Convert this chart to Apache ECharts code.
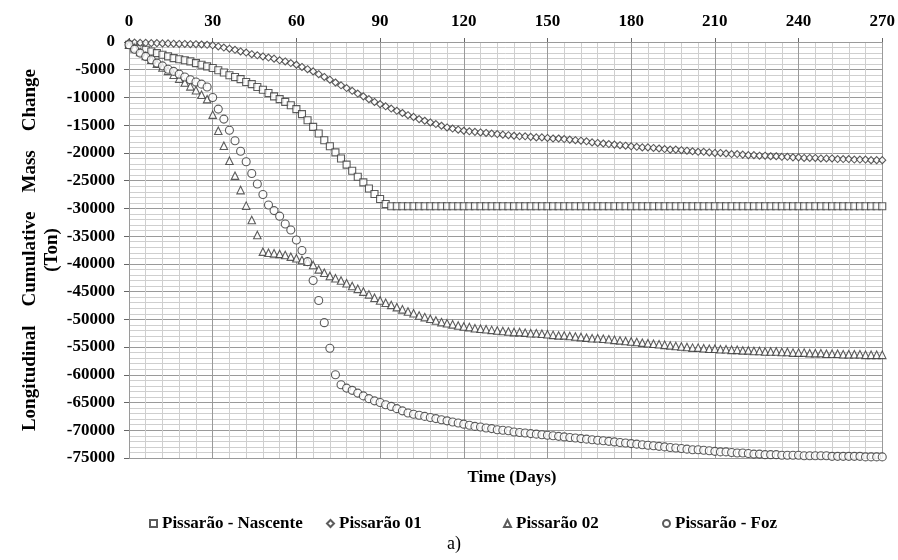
<!DOCTYPE html>
<html>
<head>
<meta charset="utf-8">
<script src="https://cdn.jsdelivr.net/npm/echarts@6/dist/echarts.min.js"></script>
<style>
  html, body { margin: 0; padding: 0; background: #fff; }
  #main { width: 898px; height: 560px; }
</style>
</head>
<body>
<div id="main"></div>
<script>
// time axis: one sample every 2 days, 0..270
var days = [];
for (var d = 0; d <= 270; d += 2) days.push(d);

var xTicks = [0, 30, 60, 90, 120, 150, 180, 210, 240, 270];
var yTicks = [0, -5000, -10000, -15000, -20000, -25000, -30000, -35000, -40000,
    -45000, -50000, -55000, -60000, -65000, -70000, -75000];

var seriesNames = ["Pissarão - Nascente", "Pissarão 01", "Pissarão 02", "Pissarão - Foz"];

// Pissarão - Nascente (squares)
var nascente = [
    -500, -900, -1200, -1400, -1700, -2000, -2300, -2600, -2900, -3100,
    -3300, -3500, -3800, -4100, -4400,
    -4700, -5100, -5500, -6000, -6300, -6700, -7200, -7600, -8100, -8600,
    -9200, -9800, -10300, -10800, -11400,
    -12100, -13000, -14100, -15300, -16500, -17700, -18800, -19900, -21000, -22100,
    -23200, -24300, -25300, -26400, -27400, -28300, -29200,
    -29600, -29600, -29600, -29600, -29600, -29600, -29600, -29600, -29600, -29600,
    -29600, -29600, -29600, -29600, -29600, -29600, -29600, -29600, -29600, -29600,
    -29600, -29600, -29600, -29600, -29600, -29600, -29600, -29600, -29600, -29600,
    -29600, -29600, -29600, -29600, -29600, -29600, -29600, -29600, -29600, -29600,
    -29600, -29600, -29600, -29600, -29600, -29600, -29600, -29600, -29600, -29600,
    -29600, -29600, -29600, -29600, -29600, -29600, -29600, -29600, -29600, -29600,
    -29600, -29600, -29600, -29600, -29600, -29600, -29600, -29600, -29600, -29600,
    -29600, -29600, -29600, -29600, -29600, -29600, -29600, -29600, -29600, -29600,
    -29600, -29600, -29600, -29600, -29600, -29600, -29600, -29600, -29600
];

// Pissarão 01 (diamonds)
var p01 = [
    -100, -100, -150, -150, -200, -200, -250, -250, -300, -350,
    -350, -400, -400, -450, -500, -600, -800, -1000, -1200, -1400,
    -1700, -1900, -2200, -2400, -2600, -2800, -3000, -3300, -3500, -3800,
    -4100, -4500, -4900, -5300, -5800, -6300, -6800, -7300, -7800, -8300,
    -8800, -9300, -9800, -10300, -10800, -11200, -11600, -12000, -12400, -12800,
    -13200, -13500, -13900, -14200, -14500, -14800, -15100, -15400, -15600, -15800,
    -16000, -16100, -16200, -16300, -16400, -16500, -16600, -16700, -16800, -16900,
    -17000, -17000, -17100, -17200, -17200, -17300, -17400, -17400, -17500, -17600,
    -17700, -17800, -17900, -18100, -18200, -18300, -18400, -18500, -18600, -18700,
    -18800, -18900, -19000, -19000, -19100, -19200, -19300, -19400, -19400, -19500,
    -19600, -19700, -19800, -19800, -19900, -20000, -20000, -20100, -20200, -20200,
    -20300, -20400, -20400, -20500, -20500, -20600, -20600, -20700, -20700, -20800,
    -20800, -20900, -20900, -20900, -21000, -21000, -21000, -21100, -21100, -21100,
    -21200, -21200, -21200, -21300, -21300, -21300
];

// Pissarão 02 (triangles)
var p02 = [
    -500, -1100, -1800, -2500, -3200, -3900, -4600, -5200, -5900, -6600,
    -7300, -8000, -8700, -9500, -10300, -13100, -16000, -18700, -21400, -24100,
    -26700, -29500, -32100, -34800, -37800, -38000, -38100, -38200, -38400, -38700,
    -39000, -39300, -39600, -40200, -41000, -41600, -42200, -42600, -43000, -43500,
    -44000, -44500, -45000, -45500, -46100, -46600, -47000, -47400, -47800, -48200,
    -48600, -48900, -49300, -49600, -49900, -50200, -50500, -50700, -50900, -51100,
    -51300, -51400, -51600, -51700, -51800, -51900, -52000, -52100, -52200, -52300,
    -52300, -52400, -52500, -52500, -52600, -52700, -52800, -52900, -52900, -53000,
    -53100, -53200, -53300, -53400, -53400, -53500, -53600, -53700, -53800, -53900,
    -54000, -54100, -54200, -54300, -54400, -54500, -54600, -54700, -54800, -54900,
    -55000, -55100, -55100, -55200, -55300, -55300, -55400, -55400, -55500, -55500,
    -55600, -55600, -55700, -55700, -55800, -55800, -55800, -55900, -55900, -56000,
    -56000, -56000, -56100, -56100, -56100, -56200, -56200, -56200, -56300, -56300,
    -56300, -56300, -56400, -56400, -56400, -56400
];

// Pissarão - Foz (circles)
var foz = [
    -500, -1300, -2000, -2600, -3200, -3800, -4300, -4900, -5300, -5800,
    -6300, -6800, -7200, -7600, -8100, -10000, -12100, -13900, -15900, -17800,
    -19700, -21600, -23700, -25600, -27500, -29400, -30400, -31400, -32800, -33900,
    -35700, -37600, -39600, -43000, -46600, -50600, -55200, -60000, -61800, -62400,
    -62800, -63300, -63800, -64300, -64700, -65000, -65400, -65700, -66100, -66500,
    -66900, -67100, -67300, -67500, -67700, -67900, -68100, -68300, -68500, -68700,
    -68900, -69100, -69300, -69400, -69600, -69700, -69900, -70000, -70100, -70300,
    -70400, -70500, -70600, -70700, -70800, -70900, -71000, -71100, -71200, -71300,
    -71400, -71500, -71600, -71700, -71800, -71900, -72000, -72100, -72200, -72300,
    -72400, -72500, -72600, -72700, -72800, -72900, -73000, -73100, -73200, -73300,
    -73400, -73500, -73500, -73600, -73700, -73800, -73900, -73900, -74000, -74100,
    -74100, -74200, -74300, -74300, -74400, -74400, -74400, -74500, -74500, -74500,
    -74500, -74600, -74600, -74600, -74600, -74600, -74700, -74700, -74700, -74700,
    -74700, -74700, -74800, -74800, -74800, -74800
];

var symbols = ['rect', 'diamond', 'triangle', 'circle'];
var legendLeft = [144, 321, 498, 657];

function pairs(vals) {
    return days.map(function (d, i) { return [d, vals[i]]; });
}

var serif = "'Liberation Serif', 'DejaVu Serif', serif";
var majorColor = '#9a9a9a';
var minorColor = '#cfcfcf';

var chart = echarts.init(document.getElementById('main'));

function markerSeries(idx, size, vals) {
    return {
        name: seriesNames[idx],
        type: 'scatter',
        symbol: symbols[idx],
        symbolSize: size,
        data: pairs(vals),
        itemStyle: { color: '#fff', borderColor: '#333', borderWidth: 1.1 },
        animation: false
    };
}

// one legend box per entry so each can sit where the original has it
var legends = seriesNames.map(function (n, i) {
    return {
        data: [{ name: n, icon: symbols[i] }],
        left: legendLeft[i], top: 510,
        itemWidth: 7, itemHeight: 7,
        textStyle: { fontFamily: serif, fontWeight: 'bold', fontSize: 17, color: '#000' }
    };
});

var option = {
    backgroundColor: '#fff',
    animation: false,
    title: [
        {
            text: 'Time (Days)', left: 507, top: 464, textAlign: 'center',
            textStyle: { fontFamily: serif, fontWeight: 'bold', fontSize: 17, color: '#000' }
        },
        {
            text: 'a)', left: 449, top: 530, textAlign: 'center',
            textStyle: { fontFamily: serif, fontWeight: 'normal', fontSize: 18, color: '#000' }
        }
    ],
    legend: legends,
    grid: { left: 129, right: 14, top: 42, bottom: 102, containLabel: false },
    xAxis: {
        type: 'value', position: 'top',
        min: 0, max: 270, interval: 30,
        axisLine: { show: true, lineStyle: { color: majorColor } },
        axisTick: { show: true, length: 4, lineStyle: { color: '#666' } },
        minorTick: { show: false, splitNumber: 5 },
        splitLine: { show: true, lineStyle: { color: majorColor, width: 1 } },
        minorSplitLine: { show: true, lineStyle: { color: minorColor, width: 1 } },
        axisLabel: {
            margin: 12, fontFamily: serif, fontWeight: 'bold', fontSize: 17, color: '#000',
            formatter: function (v) { return xTicks.indexOf(v) >= 0 ? String(v) : ''; }
        }
    },
    yAxis: {
        type: 'value',
        min: -75000, max: 0, interval: 5000,
        name: 'Longitudinal    Cumulative    Mass    Change\n(Ton)',
        nameLocation: 'middle', nameRotate: 90, nameGap: 66, nameMoveOverlap: false,
        nameTextStyle: { fontFamily: serif, fontWeight: 'bold', fontSize: 19, color: '#000', lineHeight: 22, align: 'center' },
        axisLine: { show: true, lineStyle: { color: majorColor } },
        axisTick: { show: true, length: 5, lineStyle: { color: '#666' } },
        minorTick: { show: false, splitNumber: 5 },
        splitLine: { show: true, lineStyle: { color: majorColor, width: 1 } },
        minorSplitLine: { show: true, lineStyle: { color: minorColor, width: 1 } },
        axisLabel: {
            margin: 14, fontFamily: serif, fontWeight: 'bold', fontSize: 17, color: '#000',
            formatter: function (v) { return yTicks.indexOf(v) >= 0 ? String(v) : ''; }
        }
    },
    series: [
        markerSeries(0, 7, nascente),
        markerSeries(1, 7, p01),
        markerSeries(2, 7.5, p02),
        markerSeries(3, 8, foz)
    ]
};

chart.setOption(option);
</script>
</body>
</html>
